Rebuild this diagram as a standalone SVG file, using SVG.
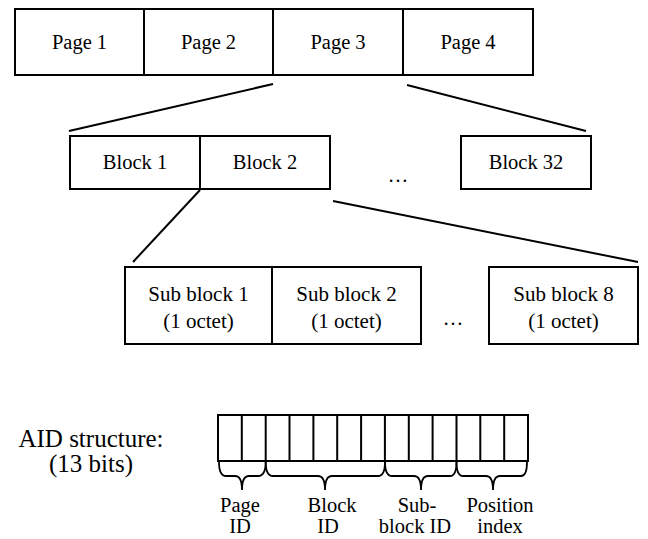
<svg xmlns="http://www.w3.org/2000/svg" width="648" height="539" viewBox="0 0 648 539">
<style>
.b{fill:#fff;stroke:#000;stroke-width:2}
.l{fill:none;stroke:#000;stroke-width:2}
.t{font-family:"Liberation Serif","Times New Roman",serif;font-size:20.5px;fill:#000;text-anchor:middle}
.s{font-size:21px}
.a{font-size:25px}
.br{fill:none;stroke:#000;stroke-width:1.8}
</style>
<rect width="648" height="539" fill="#fff"/>
<g id="connectors">
<line class="l" x1="273" y1="84" x2="69" y2="131"/>
<line class="l" x1="407" y1="85" x2="586" y2="131"/>
<line class="l" x1="200" y1="190" x2="133" y2="262"/>
<line class="l" x1="333" y1="201" x2="638" y2="262"/>
</g>
<g id="page1"><rect class="b" x="15" y="9" width="129" height="66"/><text class="t" x="79.5" y="49">Page 1</text></g>
<g id="page2"><rect class="b" x="144" y="9" width="129" height="66"/><text class="t" x="208.5" y="49">Page 2</text></g>
<g id="page3"><rect class="b" x="273" y="9" width="130" height="66"/><text class="t" x="338" y="49">Page 3</text></g>
<g id="page4"><rect class="b" x="403" y="9" width="130" height="66"/><text class="t" x="468" y="49">Page 4</text></g>
<g id="block1"><rect class="b" x="70" y="136" width="130" height="53"/><text class="t" x="135" y="169">Block 1</text></g>
<g id="block2"><rect class="b" x="200" y="136" width="130" height="53"/><text class="t" x="265" y="169">Block 2</text></g>
<g id="block32"><rect class="b" x="461" y="136" width="130" height="53"/><text class="t" x="526" y="169">Block 32</text></g>
<text class="t" x="398" y="182">…</text>
<g id="sub1"><rect class="b" x="125" y="267" width="147" height="77"/><text class="t s" x="198.5" y="301">Sub block 1</text><text class="t s" x="198.5" y="328">(1 octet)</text></g>
<g id="sub2"><rect class="b" x="272" y="267" width="149" height="77"/><text class="t s" x="346.5" y="301">Sub block 2</text><text class="t s" x="346.5" y="328">(1 octet)</text></g>
<g id="sub8"><rect class="b" x="489" y="267" width="149" height="77"/><text class="t s" x="563.5" y="301">Sub block 8</text><text class="t s" x="563.5" y="328">(1 octet)</text></g>
<text class="t" x="453" y="325">…</text>
<g id="aid-label">
<text class="t a" x="91" y="447">AID structure:</text>
<text class="t a" x="91" y="472">(13 bits)</text>
</g>
<g id="aid-bits">
<rect class="b" x="218" y="415" width="310" height="46"/>
<path class="l" d="M241.8 415V461M265.7 415V461M289.5 415V461M313.4 415V461M337.2 415V461M361.1 415V461M384.9 415V461M408.8 415V461M432.6 415V461M456.5 415V461M480.3 415V461M504.2 415V461"/>
</g>
<g id="braces">
<path class="br" d="M219 462Q219 476 226 476H235Q242 476 242 490Q242 476 249 476H258Q265.7 476 265.7 462"/>
<path class="br" d="M265.7 462Q265.7 476 273 476H318Q325 476 325 490Q325 476 332 476H378Q385 476 385 462"/>
<path class="br" d="M385 462Q385 476 392 476H414Q421 476 421 490Q421 476 428 476H450Q456.5 476 456.5 462"/>
<path class="br" d="M456.5 462Q456.5 476 463 476H486Q493 476 493 490Q493 476 500 476H521Q527 476 527 462"/>
</g>
<g id="field-labels">
<text class="t" x="240" y="512">Page</text><text class="t" x="240" y="533">ID</text>
<text class="t" x="332" y="512">Block</text><text class="t" x="328" y="533">ID</text>
<text class="t" x="417" y="512">Sub-</text><text class="t" x="415" y="533">block ID</text>
<text class="t" x="500" y="512">Position</text><text class="t" x="500" y="533">index</text>
</g>
</svg>
